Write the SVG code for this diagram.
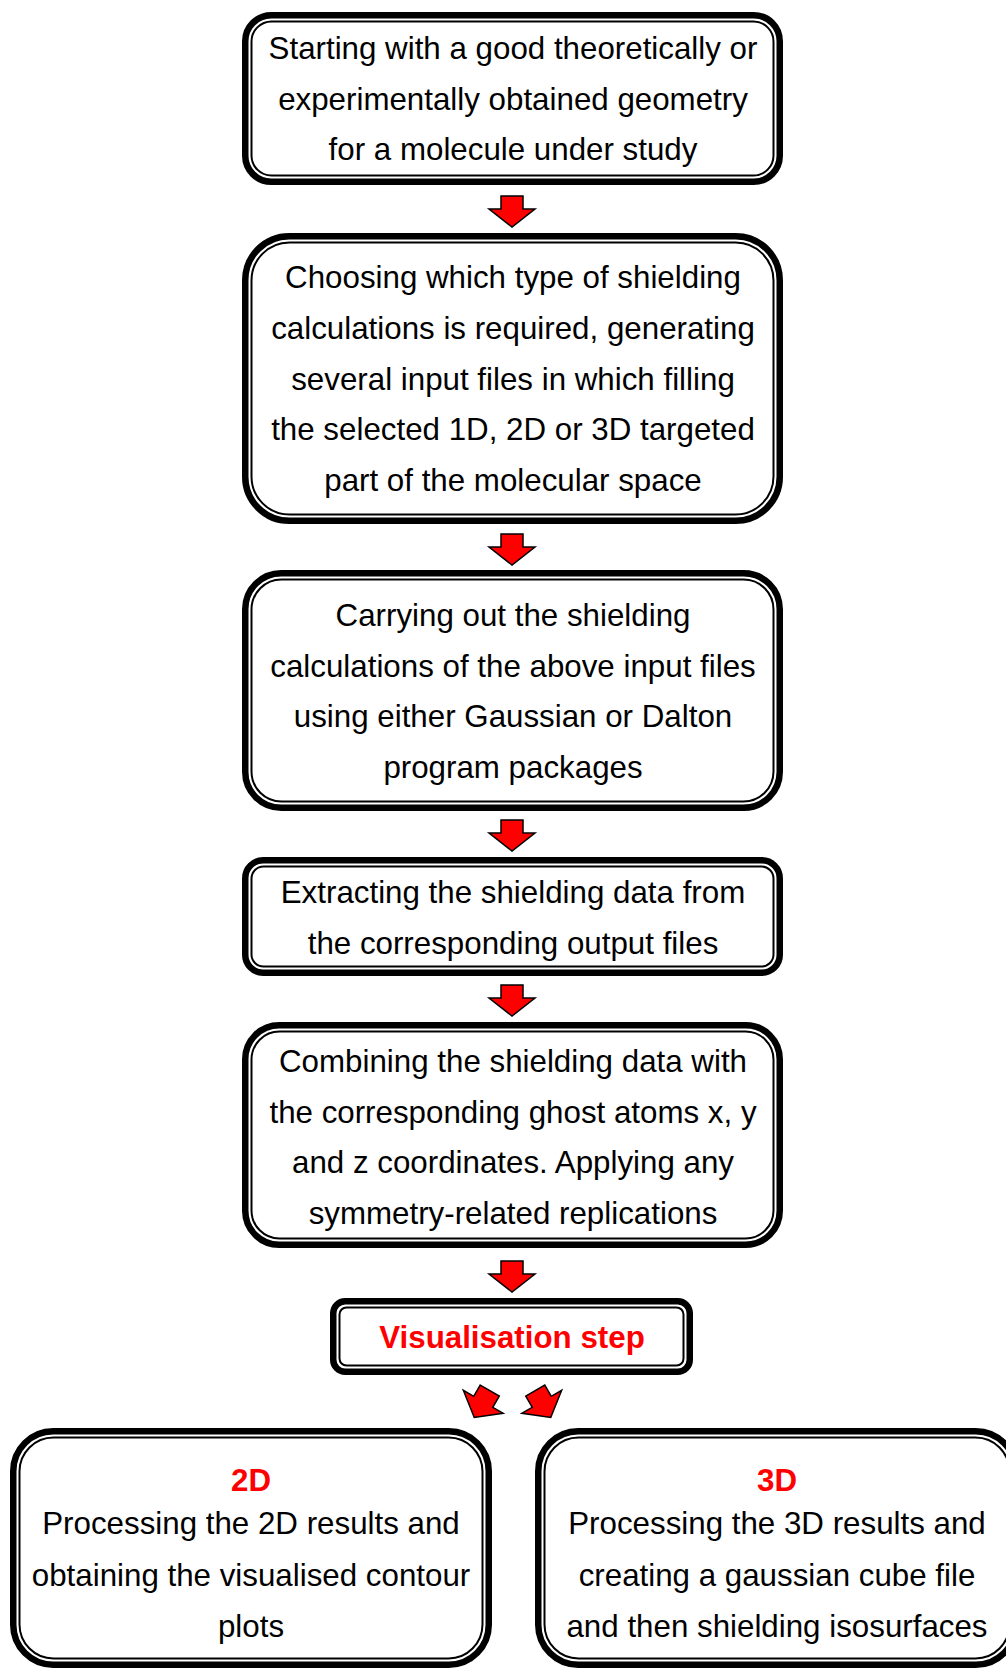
<svg xmlns="http://www.w3.org/2000/svg" width="1006" height="1670" viewBox="0 0 1006 1670">
<style>
.o{fill:#fff;stroke:#000;stroke-width:6.5}
.i{fill:none;stroke:#000;stroke-width:2}
.t{font-family:"Liberation Sans",Arial,sans-serif;font-size:31.3px;fill:#000;text-anchor:middle}
.r{font-weight:bold;fill:#ff0000}
.a{fill:#ff0000;stroke:#000;stroke-width:1.5;stroke-linejoin:miter}
</style>
<defs>
<path id="arr" d="M-11,0 L11,0 L11,13 L23,13 L0,31 L-23,13 L-11,13 Z"/>
</defs>
<rect width="1006" height="1670" fill="#fff"/>

<g id="n1">
<rect class="o" x="245.25" y="15.25" width="534.5" height="166.5" rx="26" ry="26"/>
<rect class="i" x="251.5" y="21.5" width="522" height="154" rx="20" ry="20"/>
<text class="t"><tspan x="513" y="59">Starting with a good theoretically or</tspan><tspan x="513" y="110">experimentally obtained geometry</tspan><tspan x="513" y="160">for a molecule under study</tspan></text>
</g>

<g id="n2">
<rect class="o" x="245.25" y="236.25" width="534.5" height="284.5" rx="44" ry="44"/>
<rect class="i" x="251.5" y="242.5" width="522" height="272" rx="38" ry="38"/>
<text class="t"><tspan x="513" y="288">Choosing which type of shielding</tspan><tspan x="513" y="339">calculations is required, generating</tspan><tspan x="513" y="390">several input files in which filling</tspan><tspan x="513" y="440">the selected 1D, 2D or 3D targeted</tspan><tspan x="513" y="491">part of the molecular space</tspan></text>
</g>

<g id="n3">
<rect class="o" x="245.25" y="573.25" width="534.5" height="234.5" rx="36" ry="36"/>
<rect class="i" x="251.5" y="579.5" width="522" height="222" rx="30" ry="30"/>
<text class="t"><tspan x="513" y="626">Carrying out the shielding</tspan><tspan x="513" y="677">calculations of the above input files</tspan><tspan x="513" y="727">using either Gaussian or Dalton</tspan><tspan x="513" y="778">program packages</tspan></text>
</g>

<g id="n4">
<rect class="o" x="245.25" y="860.25" width="534.5" height="112.5" rx="18" ry="18"/>
<rect class="i" x="251.5" y="866.5" width="522" height="100" rx="12" ry="12"/>
<text class="t"><tspan x="513" y="903">Extracting the shielding data from</tspan><tspan x="513" y="954">the corresponding output files</tspan></text>
</g>

<g id="n5">
<rect class="o" x="245.25" y="1025.25" width="534.5" height="219.5" rx="34" ry="34"/>
<rect class="i" x="251.5" y="1031.5" width="522" height="207" rx="28" ry="28"/>
<text class="t"><tspan x="513" y="1072">Combining the shielding data with</tspan><tspan x="513" y="1123">the corresponding ghost atoms x, y</tspan><tspan x="513" y="1173">and z coordinates. Applying any</tspan><tspan x="513" y="1224">symmetry-related replications</tspan></text>
</g>

<g id="n6">
<rect class="o" x="333.25" y="1301.25" width="356.5" height="70.5" rx="12" ry="12"/>
<rect class="i" x="339.5" y="1307.5" width="344" height="58" rx="7" ry="7"/>
<text class="t r" x="512" y="1348">Visualisation step</text>
</g>

<g id="n7">
<rect class="o" x="13.25" y="1431.25" width="475.5" height="233.5" rx="40" ry="40"/>
<rect class="i" x="19.5" y="1437.5" width="463" height="221" rx="34" ry="34"/>
<text class="t r" x="251" y="1491">2D</text>
<text class="t"><tspan x="251" y="1534">Processing the 2D results and</tspan><tspan x="251" y="1586">obtaining the visualised contour</tspan><tspan x="251" y="1637">plots</tspan></text>
</g>

<g id="n8">
<rect class="o" x="538.25" y="1431.25" width="477.5" height="233.5" rx="40" ry="40"/>
<rect class="i" x="544.5" y="1437.5" width="465" height="221" rx="34" ry="34"/>
<text class="t r" x="777" y="1491">3D</text>
<text class="t"><tspan x="777" y="1534">Processing the 3D results and</tspan><tspan x="777" y="1586">creating a gaussian cube file</tspan><tspan x="777" y="1637">and then shielding isosurfaces</tspan></text>
</g>

<g id="connectors">
<use href="#arr" class="a" x="512" y="196"/>
<use href="#arr" class="a" x="512" y="534"/>
<use href="#arr" class="a" x="512" y="820"/>
<use href="#arr" class="a" x="512" y="985"/>
<use href="#arr" class="a" x="512" y="1261"/>
<use href="#arr" class="a" transform="translate(482,1404) rotate(30) translate(0,-15.5)"/>
<use href="#arr" class="a" transform="translate(543,1404) rotate(-30) translate(0,-15.5)"/>
</g>
</svg>
